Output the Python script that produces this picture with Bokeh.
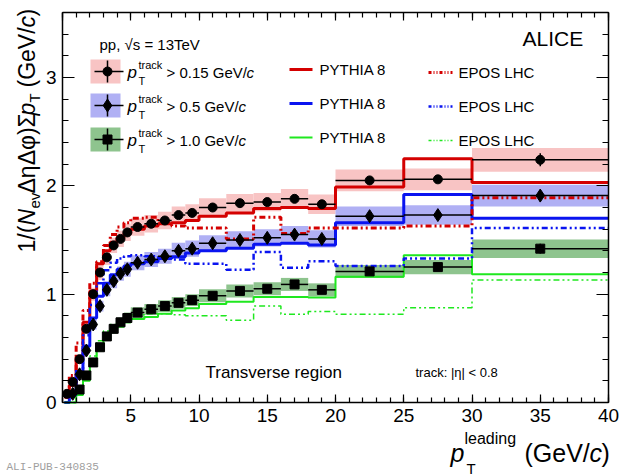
import math
from bokeh.plotting import figure
from bokeh.models import Label, LinearAxis, SingleIntervalTicker
from bokeh.embed import file_html
from bokeh.resources import INLINE

# pT leading bin edges (GeV/c), common to all selections
pt_edges = [0.15, 0.5, 1.0, 1.5, 2.0, 2.5, 3.0, 3.5, 4.0, 4.5, 5.0,
            6, 7, 8, 9, 10, 12, 14, 16, 18, 20, 25, 30, 40]

# data, pT track > 0.15 GeV/c (starts at first edge)
data_015 = [0.08, 0.19, 0.40, 0.68, 1.00, 1.20, 1.34, 1.45, 1.51, 1.57, 1.62, 1.65,
            1.68, 1.73, 1.75, 1.80, 1.84, 1.85, 1.88, 1.83, 2.05, 2.06, 2.24]
stat_015 = [0.005, 0.005, 0.005, 0.005, 0.005, 0.005, 0.005, 0.005, 0.005, 0.005, 0.005, 0.006,
            0.007, 0.008, 0.009, 0.008, 0.01, 0.012, 0.015, 0.018, 0.015, 0.03, 0.06]
sys_015 = [0.01, 0.015, 0.03, 0.04, 0.06, 0.07, 0.07, 0.07, 0.075, 0.08, 0.08, 0.08,
           0.08, 0.08, 0.08, 0.085, 0.085, 0.085, 0.09, 0.09, 0.10, 0.10, 0.11]

# data, pT track > 0.5 GeV/c (starts at 0.5)
data_05 = [0.08, 0.26, 0.48, 0.72, 0.89, 1.04, 1.12, 1.19, 1.23, 1.29, 1.32,
           1.35, 1.40, 1.42, 1.47, 1.50, 1.52, 1.55, 1.51, 1.72, 1.73, 1.91]
stat_05 = [0.005, 0.005, 0.005, 0.005, 0.005, 0.005, 0.005, 0.005, 0.005, 0.005, 0.006,
           0.007, 0.008, 0.009, 0.008, 0.01, 0.012, 0.015, 0.018, 0.015, 0.03, 0.055]
sys_05 = [0.01, 0.02, 0.03, 0.045, 0.05, 0.06, 0.065, 0.065, 0.07, 0.07, 0.07,
          0.07, 0.075, 0.075, 0.075, 0.08, 0.08, 0.08, 0.08, 0.09, 0.09, 0.10]

# data, pT track > 1.0 GeV/c (starts at 1.0)
data_10 = [0.12, 0.25, 0.37, 0.51, 0.61, 0.68, 0.74, 0.78, 0.83, 0.86,
           0.89, 0.92, 0.945, 0.985, 1.03, 1.05, 1.09, 1.04, 1.21, 1.25, 1.42]
stat_10 = [0.005, 0.005, 0.005, 0.005, 0.005, 0.005, 0.005, 0.005, 0.005, 0.005,
           0.006, 0.007, 0.008, 0.007, 0.009, 0.011, 0.013, 0.015, 0.013, 0.025, 0.045]
sys_10 = [0.01, 0.02, 0.03, 0.035, 0.04, 0.045, 0.045, 0.05, 0.05, 0.05,
          0.055, 0.055, 0.055, 0.06, 0.06, 0.06, 0.06, 0.06, 0.06, 0.065, 0.085]

# models, all on the full set of bins
pythia_015 = [0.05, 0.16, 0.42, 0.74, 1.03, 1.28, 1.40, 1.48, 1.52, 1.56, 1.60, 1.63,
              1.65, 1.66, 1.68, 1.72, 1.75, 1.79, 1.80, 1.79, 1.99, 2.25, 2.03]
epos_015 = [0.05, 0.25, 0.55, 0.85, 1.10, 1.30, 1.45, 1.55, 1.62, 1.66, 1.70, 1.71,
            1.66, 1.63, 1.61, 1.61, 1.51, 1.71, 1.56, 1.61, 1.61, 1.63, 1.89]
pythia_05 = [0.0, 0.06, 0.26, 0.52, 0.78, 0.98, 1.10, 1.18, 1.23, 1.26, 1.28, 1.30,
             1.33, 1.345, 1.38, 1.40, 1.425, 1.46, 1.47, 1.455, 1.66, 1.92, 1.70]
epos_05 = [0.0, 0.07, 0.30, 0.62, 0.90, 1.10, 1.22, 1.29, 1.33, 1.35, 1.36, 1.35,
           1.34, 1.32, 1.28, 1.28, 1.225, 1.39, 1.245, 1.305, 1.26, 1.33, 1.61]
pythia_10 = [0.0, 0.0, 0.07, 0.20, 0.36, 0.48, 0.58, 0.65, 0.70, 0.74, 0.77, 0.79,
             0.82, 0.85, 0.87, 0.91, 0.93, 0.975, 0.975, 0.97, 1.16, 1.36, 1.185]
epos_10 = [0.0, 0.0, 0.08, 0.25, 0.43, 0.57, 0.66, 0.72, 0.76, 0.79, 0.81, 0.82,
           0.82, 0.81, 0.80, 0.80, 0.76, 0.89, 0.815, 0.84, 0.815, 0.875, 1.13]

RED = "#d40000"
BLUE = "#0a14f0"
GREEN = "#1fe81f"
BAND_RED = "#f8c4c4"
BAND_BLUE = "#b0b0f4"
BAND_GREEN = "#8ec48e"
FONT = "Liberation Sans"
EPOS_DASH = "6 3 2 3 2 3"

# page geometry (px): canvas at the page corner, axes box inside it
W, H = 623, 476
X0, X1, YT, YB = 62, 608, 12, 402
XMAX, YMAX = 40, 3.6
PX_X = (X1 - X0) / XMAX
PX_Y = (YB - YT) / YMAX


def dx(X):
    return (X - X0) / PX_X


def dy(Y):
    return (YB - Y) / PX_Y


# the frame fills the canvas, the axes sit at fixed data positions
p = figure(width=W, height=H,
           x_range=(dx(0), dx(W)), y_range=(dy(H), dy(0)),
           output_backend="svg", toolbar_location=None,
           min_border_left=0, min_border_right=0, min_border_top=0, min_border_bottom=0)
p.xgrid.visible = False
p.ygrid.visible = False
p.outline_line_color = None
p.background_fill_color = "white"


def style_axis(ax, tick_major, tick_minor, labels=True):
    ax.major_tick_in = tick_major
    ax.major_tick_out = 0
    ax.minor_tick_in = tick_minor
    ax.minor_tick_out = 0
    ax.axis_line_width = 1.5
    ax.major_tick_line_width = 1.2
    ax.minor_tick_line_width = 1.2
    ax.axis_label = None
    if labels:
        ax.major_label_text_font = FONT
        ax.major_label_text_font_size = "19px"
        ax.major_label_text_color = "black"
    else:
        ax.major_label_text_color = None
        ax.major_label_standoff = 0


p.xaxis.ticker = SingleIntervalTicker(interval=5, num_minor_ticks=5)
p.yaxis.ticker = SingleIntervalTicker(interval=1, num_minor_ticks=5)
p.xaxis.fixed_location = 0
p.yaxis.fixed_location = 0
p.xaxis.bounds = (0, XMAX)
p.yaxis.bounds = (0, YMAX)
style_axis(p.xaxis[0], 8, 5)
style_axis(p.yaxis[0], 12, 6)
p.xaxis.major_label_overrides = {0: ""}
p.xaxis.major_label_standoff = 6
p.yaxis.major_label_standoff = 6

top_ax = LinearAxis(ticker=SingleIntervalTicker(interval=5, num_minor_ticks=5),
                    fixed_location=YMAX, bounds=(0, XMAX))
right_ax = LinearAxis(ticker=SingleIntervalTicker(interval=1, num_minor_ticks=5),
                      fixed_location=XMAX, bounds=(0, YMAX))
style_axis(top_ax, 8, 5, labels=False)
style_axis(right_ax, 12, 6, labels=False)
p.add_layout(top_ax, "above")
p.add_layout(right_ax, "right")


def bins(start):
    lo = pt_edges[start:-1]
    hi = pt_edges[start + 1:]
    mid = [(a + b) / 2 for a, b in zip(lo, hi)]
    return lo, hi, mid


series = [
    (data_015, stat_015, sys_015, 0, BAND_RED, "circle", 9),
    (data_05, stat_05, sys_05, 1, BAND_BLUE, "diamond", 13),
    (data_10, stat_10, sys_10, 2, BAND_GREEN, "square", 9),
]

# systematic bands
for vals, stat, sys, start, band, marker, size in series:
    lo, hi, mid = bins(start)
    p.quad(left=lo, right=hi,
           bottom=[v - s for v, s in zip(vals, sys)],
           top=[v + s for v, s in zip(vals, sys)],
           fill_color=band, line_color=None)

# model histograms
models = [
    (pythia_015, RED, 3, "solid"),
    (pythia_05, BLUE, 3, "solid"),
    (pythia_10, GREEN, 2, "solid"),
    (epos_015, RED, 3, EPOS_DASH),
    (epos_05, BLUE, 2.5, EPOS_DASH),
    (epos_10, GREEN, 1.5, EPOS_DASH),
]
for vals, col, lw, dash in models:
    p.step(x=pt_edges, y=vals + [vals[-1]], mode="after",
           line_color=col, line_width=lw, line_dash=dash)

# data points with bin width and statistical errors
for vals, stat, sys, start, band, marker, size in series:
    lo, hi, mid = bins(start)
    p.segment(x0=lo, x1=hi, y0=vals, y1=vals, line_color="black", line_width=1.5)
    p.segment(x0=mid, x1=mid,
              y0=[v - s for v, s in zip(vals, stat)],
              y1=[v + s for v, s in zip(vals, stat)],
              line_color="black", line_width=1.5)
    p.scatter(mid, vals, marker=marker, size=size, fill_color="black", line_color="black")


def txt(X, Y, s, size=15, style="normal", align="left", angle=0.0, color="black", font=FONT):
    p.add_layout(Label(x=dx(X), y=dy(Y), text=s, text_font=font,
                       text_font_size=f"{size}px", text_font_style=style,
                       text_align=align, text_baseline="middle", angle=angle,
                       text_color=color))


# legend: data entries
rows = [71, 105, 139]
cuts = ["> 0.15 GeV/", "> 0.5 GeV/", "> 1.0 GeV/"]
cut_w = [80, 72, 72]
for (vals, stat, sys, start, band, marker, size), Y, cut, w in zip(series, rows, cuts, cut_w):
    p.quad(left=[dx(90)], right=[dx(120)], bottom=[dy(Y + 12)], top=[dy(Y - 12)],
           fill_color=band, line_color=None)
    p.segment(x0=[dx(94)], x1=[dx(123)], y0=[dy(Y)], y1=[dy(Y)], line_color="black", line_width=1.5)
    p.segment(x0=[dx(107)], x1=[dx(107)], y0=[dy(Y - 11)], y1=[dy(Y + 11)],
              line_color="black", line_width=1.5)
    p.scatter([dx(107)], [dy(Y)], marker=marker, size=size, fill_color="black", line_color="black")
    txt(127, Y + 1, "p", 17, "italic")
    txt(138, Y - 7, "track", 11)
    txt(138, Y + 9, "T", 11)
    txt(166, Y + 1, cut, 15)
    txt(166 + w, Y + 1, "c", 15, "italic")

# legend: model entries
for col, lw, Y in zip([RED, BLUE, GREEN], [3, 3, 2], rows):
    p.segment(x0=[dx(289)], x1=[dx(312)], y0=[dy(Y - 2)], y1=[dy(Y - 2)], line_color=col, line_width=lw)
    txt(319, Y - 2, "PYTHIA 8", 15)
for col, lw, Y in zip([RED, BLUE, GREEN], [3, 2.5, 1.5], rows):
    p.segment(x0=[dx(428)], x1=[dx(452)], y0=[dy(Y + 1)], y1=[dy(Y + 1)], line_color=col,
              line_width=lw, line_dash="3 2 1 2 1 2")
    txt(458, Y + 1, "EPOS LHC", 15)

txt(99, 44, "pp, \u221as = 13TeV", 15)
txt(522, 38, "ALICE", 21)
txt(205, 372, "Transverse region", 17)
txt(415, 372, "track: |\u03b7| < 0.8", 13)
txt(6, 466, "ALI-PUB-340835", 11, color="#a0a0a0", font="Liberation Mono")

# x axis title
txt(450, 452, "p", 25, "italic")
txt(464, 438, "leading", 16)
txt(466, 468, "T", 15)
txt(524, 452, "(GeV/", 25)
txt(589, 452, "c", 25, "italic")
txt(601, 452, ")", 25)

# y axis title, rotated, reading upwards
A = math.pi / 2
txt(26, 252, "1/(", 23, angle=A)
txt(26, 225, "N", 23, "italic", angle=A)
txt(34, 208, "ev", 15, angle=A)
txt(26, 193, "\u0394\u03b7\u0394\u03c6)\u03a3", 23, angle=A)
txt(26, 115, "p", 23, "italic", angle=A)
txt(34, 102, "T", 15, angle=A)
txt(26, 87, "(GeV/", 23, angle=A)
txt(26, 27, "c", 23, "italic", angle=A)
txt(26, 16, ")", 23, angle=A)

open("out.html", "w").write(file_html(p, INLINE))
